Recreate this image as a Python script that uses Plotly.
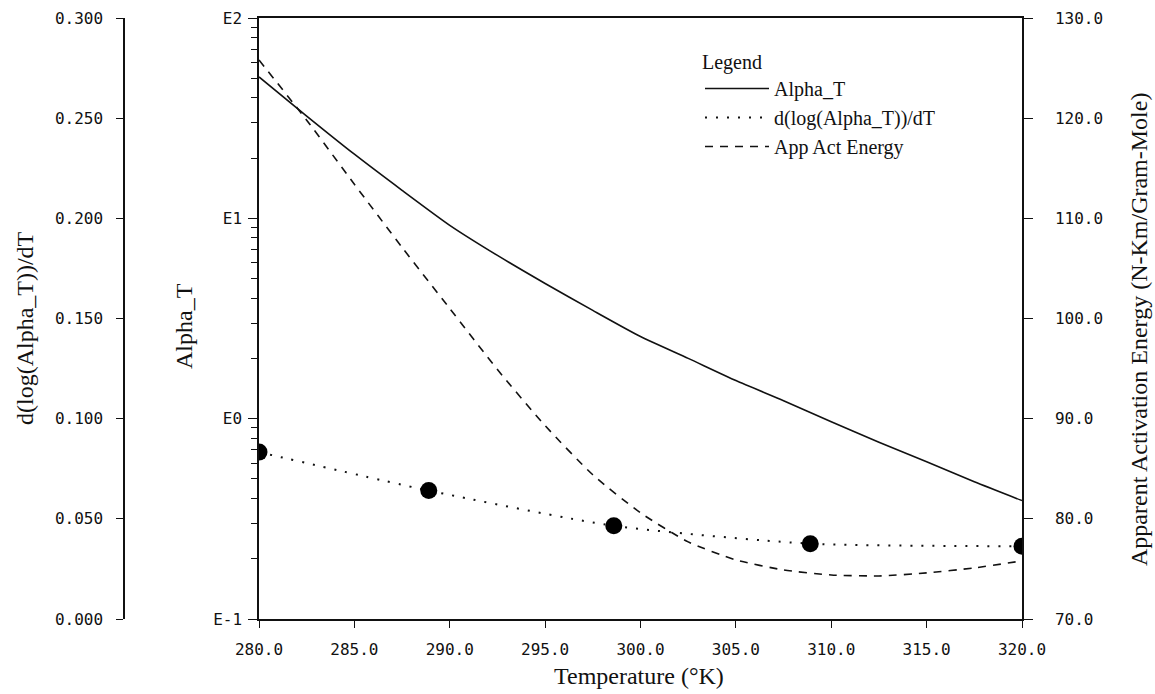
import plotly.graph_objects as go

# ---------------- data ----------------
temp_alpha = [280.0, 282.5, 285.0, 287.5, 290.0, 292.5, 295.0, 297.5, 300.0,
              302.5, 305.0, 307.5, 310.0, 312.5, 315.0, 317.5, 320.0]
alpha_t = [50.8, 32.4, 20.9, 13.8, 9.23, 6.53, 4.73, 3.47, 2.57,
           2.0, 1.55, 1.23, 0.966, 0.762, 0.61, 0.484, 0.39]

temp_deriv = [280.0, 288.9, 298.6, 308.9, 320.0]
dlog_alpha_dt = [0.0833, 0.0641, 0.0465, 0.0376, 0.0363]

temp_energy = [280.0, 282.5, 285.0, 287.5, 290.0, 292.5, 295.0, 297.5, 300.0,
               302.5, 305.0, 307.5, 310.0, 312.5, 315.0, 317.5, 320.0]
app_act_energy = [125.8, 119.8, 113.4, 107.1, 101.0, 94.9, 89.3, 84.4, 80.6,
                  77.7, 75.9, 74.9, 74.4, 74.3, 74.6, 75.1, 75.8]

x_ticks = [280, 285, 290, 295, 300, 305, 310, 315, 320]
log_tickvals = [0.1, 1, 10, 100]
log_ticktext = ["E-1", "E0", "E1", "E2"]
log_minor = [0.2, 0.3, 0.4, 0.5, 0.6, 0.7, 0.8, 0.9,
             2, 3, 4, 5, 6, 7, 8, 9,
             20, 30, 40, 50, 60, 70, 80, 90]
energy_ticks = [70, 80, 90, 100, 110, 120, 130]
deriv_ticks = [0.0, 0.05, 0.10, 0.15, 0.20, 0.25, 0.30]

# ---------------- layout helpers ----------------
W, H = 1155, 694
def px(x):
    return x / W
def py(y):
    return 1 - y / H

TICKFONT = dict(family="DejaVu Sans Mono", size=16, color="#111")
SERIF = "Liberation Serif"
BLACK = "#111"
Y_DOMAIN = [py(619), py(18)]

fig = go.Figure()

fig.add_trace(go.Scatter(
    x=temp_alpha, y=alpha_t, name="Alpha_T", mode="lines",
    line=dict(color=BLACK, width=1.6, shape="spline", smoothing=0.6),
    xaxis="x", yaxis="y"))

fig.add_trace(go.Scatter(
    x=temp_deriv, y=dlog_alpha_dt, name="d(log(Alpha_T))/dT", mode="lines",
    line=dict(color=BLACK, width=2, dash="2px,9px", shape="spline", smoothing=0.6),
    xaxis="x", yaxis="y3"))

fig.add_trace(go.Scatter(
    x=temp_energy, y=app_act_energy, name="App Act Energy", mode="lines",
    line=dict(color=BLACK, width=1.6, dash="8px,7px", shape="spline", smoothing=0.6),
    xaxis="x", yaxis="y2"))

fig.add_trace(go.Scatter(
    x=temp_deriv, y=dlog_alpha_dt, mode="markers", showlegend=False,
    marker=dict(color="black", size=17), cliponaxis=True,
    xaxis="x", yaxis="y3"))

axis_common = dict(showgrid=False, zeroline=False, showline=True,
                   linecolor=BLACK, linewidth=1.5, ticks="outside",
                   tickcolor=BLACK, tickwidth=1.3, tickfont=TICKFONT,
                   automargin=False)

fig.update_layout(
    width=W, height=H,
    margin=dict(l=0, r=0, t=0, b=0, autoexpand=False),
    paper_bgcolor="white", plot_bgcolor="white",
    xaxis=dict(domain=[px(259), px(1022)], range=[280, 320],
               tickvals=x_ticks, tickformat=".1f", ticklen=7,
               mirror=True, ticklabelstandoff=8, **axis_common),
    yaxis=dict(type="log", range=[-1, 2], domain=Y_DOMAIN,
               tickvals=log_tickvals,
               ticktext=log_ticktext, ticklen=9, anchor="x", side="left",
               ticklabelstandoff=3,
               minor=dict(tickvals=log_minor, ticks="outside", ticklen=6,
                          tickcolor=BLACK, tickwidth=1.2),
               **axis_common),
    yaxis2=dict(range=[70, 130], tickvals=energy_ticks, tickformat=".1f",
                ticklen=9, overlaying="y", side="right", anchor="x",
                ticklabelstandoff=19, **axis_common),
    yaxis3=dict(range=[0, 0.3], tickvals=deriv_ticks, tickformat=".3f",
                ticklen=7, overlaying="y", side="left", anchor="free",
                position=px(124), ticklabelstandoff=10, **axis_common),
    legend=dict(x=px(700), y=py(43), xanchor="left", yanchor="top",
                bgcolor="rgba(0,0,0,0)", borderwidth=0,
                font=dict(family=SERIF, size=20, color=BLACK),
                title=dict(text="Legend", side="top",
                           font=dict(family=SERIF, size=20, color=BLACK)),
                itemwidth=64, tracegroupgap=0),
    showlegend=True,
)

annotations = [
    dict(text="Temperature (°K)", x=px(639), y=py(676), textangle=0,
         font=dict(family=SERIF, size=24, color=BLACK)),
    dict(text="Alpha_T", x=px(184), y=py(326), textangle=-90,
         font=dict(family=SERIF, size=24, color=BLACK)),
    dict(text="d(log(Alpha_T))/dT", x=px(25), y=py(328), textangle=-90,
         font=dict(family=SERIF, size=24, color=BLACK)),
    dict(text="Apparent Activation Energy (N-Km/Gram-Mole)", x=px(1139),
         y=py(330), textangle=-90,
         font=dict(family=SERIF, size=24, color=BLACK)),
]
for a in annotations:
    a.update(xref="paper", yref="paper", showarrow=False,
             xanchor="center", yanchor="middle")
fig.update_layout(annotations=annotations)

fig.write_html("out.html")
